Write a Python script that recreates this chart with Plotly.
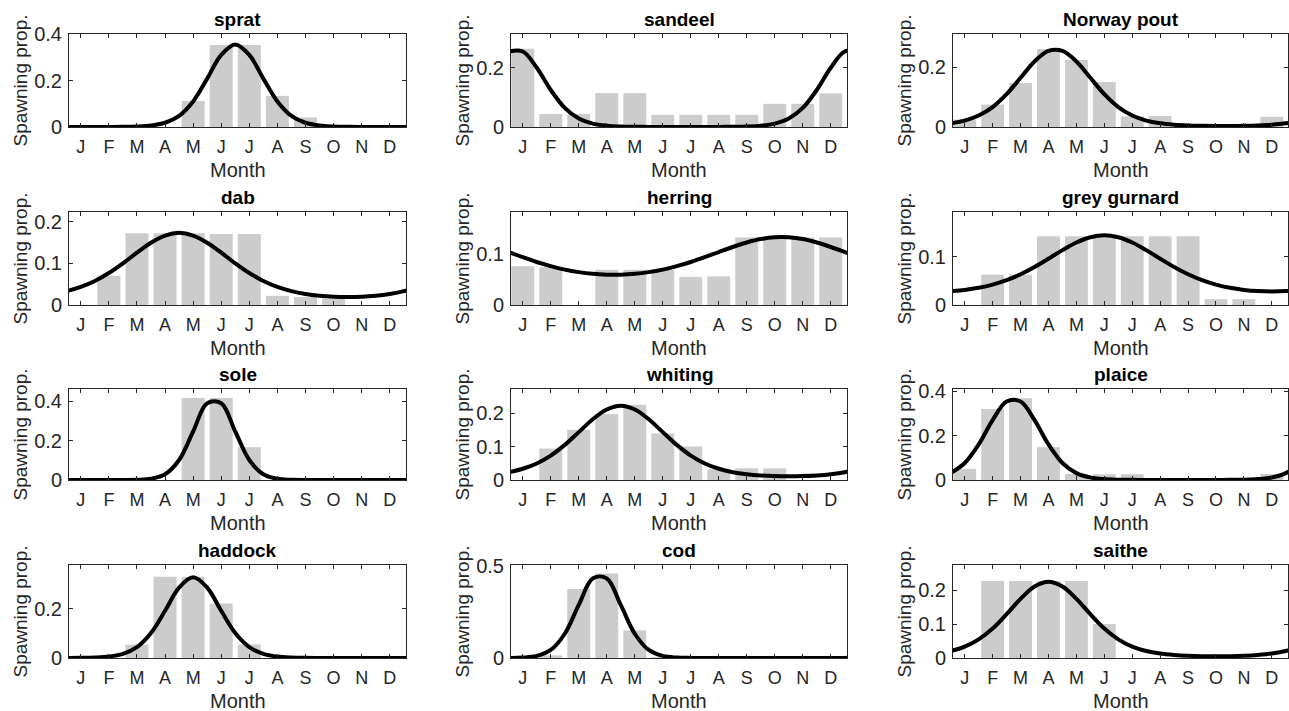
import plotly.graph_objects as go

# ---------------- data ----------------
months = list(range(1, 13))
month_labels = ["J", "F", "M", "A", "M", "J", "J", "A", "S", "O", "N", "D"]
curve_x = [0.5, 1.0, 1.5, 2.0, 2.5, 3.0, 3.5, 4.0, 4.5, 5.0, 5.5, 6.0, 6.5,
           7.0, 7.5, 8.0, 8.5, 9.0, 9.5, 10.0, 10.5, 11.0, 11.5, 12.0, 12.5, 13.0]

species = ["sprat", "sandeel", "Norway pout", "dab", "herring", "grey gurnard",
           "sole", "whiting", "plaice", "haddock", "cod", "saithe"]

sprat_bars = [0, 0, 0, 0, 0.112, 0.353, 0.353, 0.134, 0.041, 0, 0, 0]
sandeel_bars = [0.263, 0.044, 0.044, 0.114, 0.114, 0.041, 0.041, 0.041, 0.041, 0.078, 0.078, 0.113]
pout_bars = [0.025, 0.075, 0.148, 0.262, 0.225, 0.151, 0.036, 0.037, 0, 0, 0, 0.034]
dab_bars = [0, 0.07, 0.172, 0.172, 0.172, 0.170, 0.170, 0.022, 0.019, 0.015, 0, 0]
herring_bars = [0.076, 0.074, 0, 0.069, 0.069, 0.069, 0.055, 0.056, 0.132, 0.132, 0.132, 0.132]
gurnard_bars = [0, 0.0625, 0.0625, 0.142, 0.142, 0.142, 0.142, 0.142, 0.142, 0.012, 0.012, 0]
sole_bars = [0, 0, 0, 0, 0.417, 0.417, 0.167, 0, 0, 0, 0, 0]
whiting_bars = [0, 0.094, 0.15, 0.197, 0.225, 0.139, 0.10, 0.032, 0.035, 0.035, 0, 0]
plaice_bars = [0.05, 0.32, 0.368, 0.148, 0.027, 0.026, 0.026, 0, 0, 0, 0, 0.027]
haddock_bars = [0, 0, 0.054, 0.328, 0.328, 0.22, 0.055, 0, 0, 0, 0, 0]
cod_bars = [0, 0.014, 0.373, 0.457, 0.149, 0.005, 0, 0, 0, 0, 0, 0]
saithe_bars = [0, 0.227, 0.227, 0.227, 0.227, 0.10, 0, 0, 0, 0, 0, 0]

sprat_curve = [0.0001, 0.0001, 0.0002, 0.0004, 0.0009, 0.0023, 0.0065, 0.0183, 0.048, 0.110, 0.208, 0.310, 0.355,
               0.310, 0.208, 0.110, 0.048, 0.0183, 0.0065, 0.0023, 0.0009, 0.0004, 0.0002, 0.0001, 0.0001, 0.0001]
sandeel_curve = [0.254, 0.254, 0.1992, 0.1245, 0.0641, 0.0284, 0.0115, 0.0045, 0.0018, 0.0008, 0.0004, 0.0003, 0.0002,
                 0.0002, 0.0003, 0.0004, 0.0008, 0.0018, 0.0045, 0.0115, 0.0284, 0.0641, 0.1245, 0.1992, 0.254, 0.254]
pout_curve = [0.0124, 0.0216, 0.0384, 0.0668, 0.110, 0.165, 0.2199, 0.2551, 0.2551, 0.2199, 0.165, 0.110, 0.0668,
              0.0384, 0.0216, 0.0124, 0.0075, 0.005, 0.0038, 0.0033, 0.0033, 0.0038, 0.005, 0.0075, 0.0124, 0.0216]
dab_curve = [0.0332, 0.0433, 0.0576, 0.0766, 0.0998, 0.1254, 0.1493, 0.1666, 0.173, 0.1666, 0.1493, 0.1254, 0.0998,
             0.0766, 0.0576, 0.0433, 0.0332, 0.0265, 0.0222, 0.0199, 0.0192, 0.0199, 0.0222, 0.0265, 0.0332, 0.0433]
herring_curve = [0.1036, 0.0935, 0.0841, 0.076, 0.0693, 0.0643, 0.061, 0.0594, 0.0594, 0.061, 0.0643, 0.0693, 0.076,
                 0.0841, 0.0935, 0.1036, 0.1135, 0.1223, 0.129, 0.1325, 0.1325, 0.129, 0.1223, 0.1135, 0.1036, 0.0935]
gurnard_curve = [0.0287, 0.0312, 0.0355, 0.0421, 0.0513, 0.0634, 0.0784, 0.0956, 0.1133, 0.129, 0.14, 0.144, 0.14,
                 0.129, 0.1133, 0.0956, 0.0784, 0.0634, 0.0513, 0.0421, 0.0355, 0.0312, 0.0287, 0.0279, 0.0287, 0.0312]
sole_curve = [0, 0, 0, 0, 0.0002, 0.0011, 0.0062, 0.0289, 0.1016, 0.2467, 0.3906, 0.3906, 0.2467,
              0.1016, 0.0289, 0.0062, 0.0011, 0.0002, 0, 0, 0, 0, 0, 0, 0, 0]
whiting_curve = [0.0234, 0.0336, 0.0495, 0.073, 0.1049, 0.1431, 0.1816, 0.2109, 0.222, 0.2109, 0.1816, 0.1431, 0.1049,
                 0.073, 0.0495, 0.0336, 0.0234, 0.0172, 0.0135, 0.0116, 0.0111, 0.0116, 0.0135, 0.0172, 0.0234, 0.0336]
plaice_curve = [0.031, 0.0765, 0.1601, 0.2699, 0.3537, 0.3537, 0.2699, 0.1601, 0.0765, 0.031, 0.0113, 0.004, 0.0014,
                0.0006, 0.0003, 0.0002, 0.0001, 0.0001, 0.0002, 0.0003, 0.0006, 0.0014, 0.004, 0.0113, 0.031, 0.0765]
haddock_curve = [0.0004, 0.0008, 0.0021, 0.006, 0.0168, 0.0441, 0.101, 0.1908, 0.2845, 0.326, 0.2845, 0.1908, 0.101,
                 0.0441, 0.0168, 0.006, 0.0021, 0.0008, 0.0004, 0.0002, 0.0001, 0.0001, 0.0001, 0.0002, 0.0004, 0.0008]
cod_curve = [0.0005, 0.0025, 0.0112, 0.0433, 0.1311, 0.2869, 0.4303, 0.4303, 0.2869, 0.1311, 0.0433, 0.0112, 0.0025,
             0.0005, 0.0001, 0, 0, 0, 0, 0, 0, 0, 0, 0.0001, 0.0005, 0.0025]
saithe_curve = [0.0206, 0.0337, 0.055, 0.087, 0.129, 0.1744, 0.2109, 0.225, 0.2109, 0.1744, 0.129, 0.087, 0.055,
                0.0337, 0.0206, 0.013, 0.0088, 0.0065, 0.0054, 0.005, 0.0054, 0.0065, 0.0088, 0.013, 0.0206, 0.0337]

y_max = [0.4, 0.313, 0.312, 0.223, 0.182, 0.192, 0.463, 0.272, 0.41, 0.376, 0.503, 0.274]
y_ticks = [[0, 0.2, 0.4], [0, 0.2], [0, 0.2], [0, 0.1, 0.2], [0, 0.1], [0, 0.1],
           [0, 0.2, 0.4], [0, 0.1, 0.2], [0, 0.2, 0.4], [0, 0.2], [0, 0.5], [0, 0.1, 0.2]]

all_bars = [sprat_bars, sandeel_bars, pout_bars, dab_bars, herring_bars, gurnard_bars,
            sole_bars, whiting_bars, plaice_bars, haddock_bars, cod_bars, saithe_bars]
all_curves = [sprat_curve, sandeel_curve, pout_curve, dab_curve, herring_curve, gurnard_curve,
              sole_curve, whiting_curve, plaice_curve, haddock_curve, cod_curve, saithe_curve]

# ---------------- layout ----------------
W, H = 1289, 711
col_px = [(69, 406), (511, 847), (953, 1288)]
row_px = [(34, 127), (212, 305), (389, 480), (565, 658)]

FONT = "Liberation Sans, Arial, Helvetica, sans-serif"
AX = "#262626"

fig = go.Figure()
layout = dict(
    template="none",
    width=W, height=H, margin=dict(l=0, r=0, t=0, b=0, pad=0, autoexpand=False),
    paper_bgcolor="white", plot_bgcolor="white", showlegend=False,
    font=dict(family=FONT, color=AX),
    annotations=[],
)

for i, name in enumerate(species):
    r, c = divmod(i, 3)
    x0, x1 = col_px[c]
    y0, y1 = row_px[r]
    xd = [x0 / W, x1 / W]
    yd = [1 - y1 / H, 1 - y0 / H]
    k = "" if i == 0 else str(i + 1)
    xa, ya = "x" + k, "y" + k

    fig.add_trace(go.Bar(x=months, y=all_bars[i], marker=dict(color="#cccccc", line=dict(width=0)),
                         width=0.82, xaxis=xa, yaxis=ya, hoverinfo="skip"))
    fig.add_trace(go.Scatter(x=curve_x, y=all_curves[i], mode="lines",
                             line=dict(color="black", width=4, shape="spline", smoothing=1.0),
                             xaxis=xa, yaxis=ya, hoverinfo="skip"))

    layout["xaxis" + k] = dict(
        domain=xd, anchor=ya, range=[0.58, 12.58], tickmode="array", automargin=False,
        tickvals=months, ticktext=month_labels, ticks="inside", ticklen=4,
        tickcolor=AX, showline=True, linecolor=AX, linewidth=1, mirror="ticks",
        showgrid=False, zeroline=False, tickfont=dict(size=18, color=AX, family=FONT),
        ticklabelstandoff=3, fixedrange=True,
    )
    layout["yaxis" + k] = dict(
        domain=yd, anchor=xa, range=[0, y_max[i]], tickmode="array", automargin=False,
        tickvals=y_ticks[i], ticktext=[("%g" % v) for v in y_ticks[i]],
        ticks="inside", ticklen=4, tickcolor=AX, showline=True, linecolor=AX,
        linewidth=1, mirror="ticks", showgrid=False, zeroline=False,
        tickfont=dict(size=20, color=AX, family=FONT), ticklabelstandoff=2, fixedrange=True,
    )
    xc = (xd[0] + xd[1]) / 2
    layout["annotations"].append(dict(
        text="<b>%s</b>" % name, x=xc, y=yd[1], xref="paper", yref="paper",
        xanchor="center", yanchor="bottom", yshift=2, showarrow=False,
        font=dict(size=19, color="black", family=FONT)))
    layout["annotations"].append(dict(
        text="Month", x=xc, y=yd[0], xref="paper", yref="paper",
        xanchor="center", yanchor="middle", yshift=-43, showarrow=False,
        font=dict(size=20, color=AX, family=FONT)))
    layout["annotations"].append(dict(
        text="Spawning prop.", x=(x0 - 49) / W, y=(yd[0] + yd[1]) / 2, xref="paper", yref="paper",
        xanchor="center", yanchor="middle", textangle=-90, showarrow=False,
        font=dict(size=19, color=AX, family=FONT)))

fig.update_layout(**layout)
fig.write_html("out.html", config={"displayModeBar": False},
               post_script="document.body.style.margin='0';document.body.style.overflow='hidden';")
